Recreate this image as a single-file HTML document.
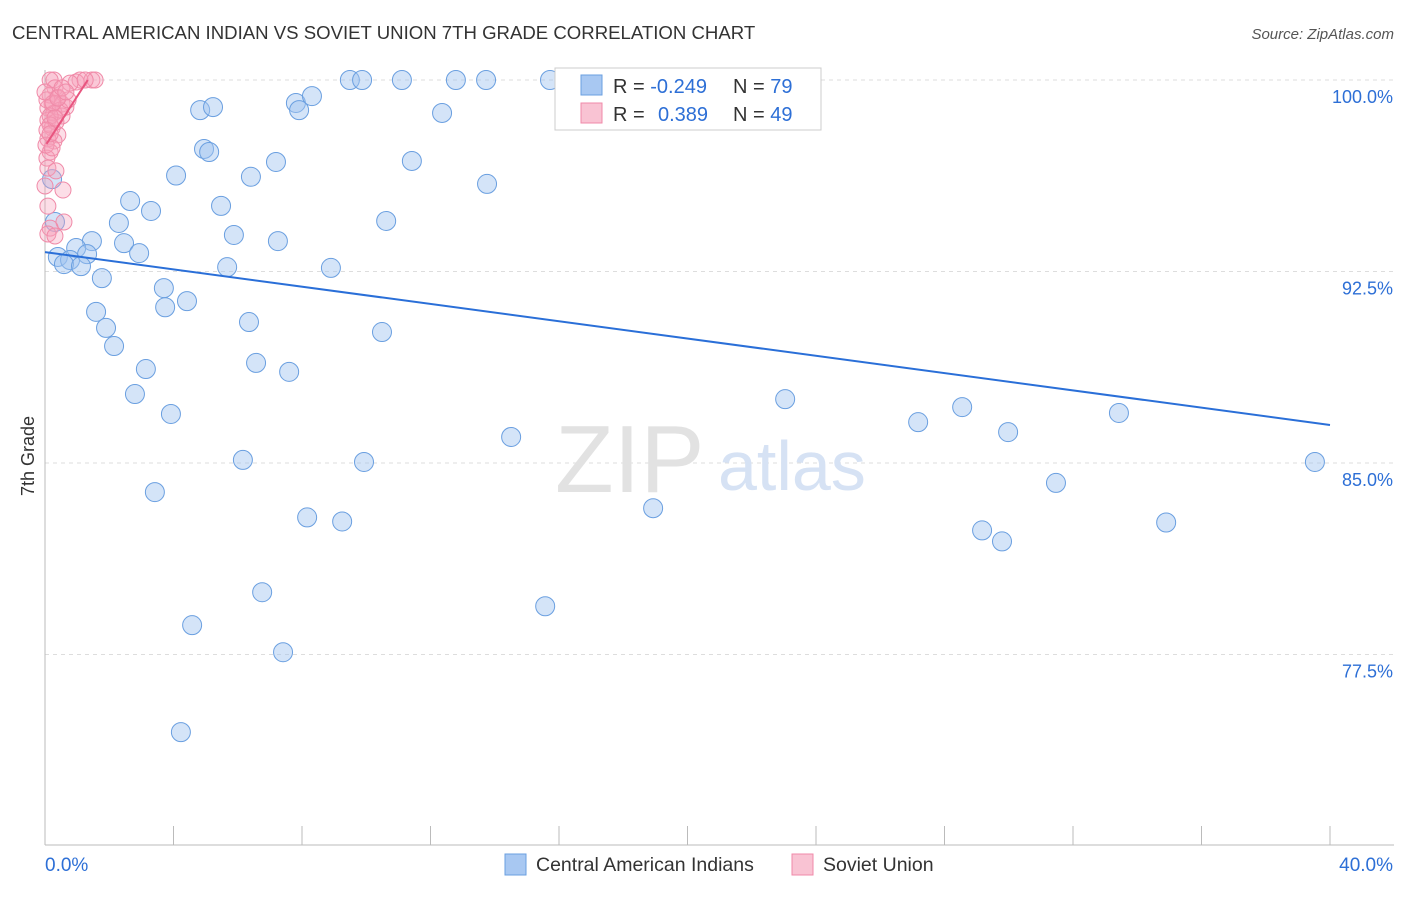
<!DOCTYPE html>
<html><head><meta charset="utf-8"><style>
body{margin:0;background:#fff;font-family:"Liberation Sans",sans-serif}
svg text{font-family:"Liberation Sans",sans-serif}
</style></head><body>
<svg id="chart" width="1406" height="892">
<text x="12" y="39" font-size="18.6" fill="#333">CENTRAL AMERICAN INDIAN VS SOVIET UNION 7TH GRADE CORRELATION CHART</text>
<text x="1394" y="39" font-size="15" fill="#555" text-anchor="end" font-style="italic">Source: ZipAtlas.com</text>
<g id="grid"></g>
<text x="555" y="492" font-size="96" fill="#e2e2e2" font-family="Liberation Serif">ZIP</text>
<text x="718" y="490" font-size="70" fill="#d6e2f4">atlas</text>
<g id="axes"></g>
<g id="pts"></g>
<g id="trend"></g>
<text transform="translate(34,456) rotate(-90)" font-size="18" fill="#333" text-anchor="middle">7th Grade</text>
<g>
<rect x="555" y="68" width="266" height="62" fill="#fff" stroke="#ccc"/>
<rect x="581" y="75" width="21" height="20" fill="#a8c8f2" stroke="#6a9fe0"/>
<rect x="581" y="103" width="21" height="20" fill="#f9c3d3" stroke="#f08aa8"/>
<text x="613" y="93" font-size="20" fill="#333">R = <tspan fill="#2d6fd6">-0.249</tspan></text>
<text x="733" y="93" font-size="20" fill="#333">N = <tspan fill="#2d6fd6">79</tspan></text>
<text x="613" y="121" font-size="20" fill="#333">R = <tspan fill="#2d6fd6" x="658">0.389</tspan></text>
<text x="733" y="121" font-size="20" fill="#333">N = <tspan fill="#2d6fd6">49</tspan></text>
</g>
<g>
<rect x="505" y="854" width="21" height="21" fill="#a8c8f2" stroke="#6a9fe0"/>
<text x="536" y="871" font-size="19.5" fill="#333">Central American Indians</text>
<rect x="792" y="854" width="21" height="21" fill="#f9c3d3" stroke="#f08aa8"/>
<text x="823" y="871" font-size="19.5" fill="#333">Soviet Union</text>
</g>
</svg>
<script>
const yTicks=[100,92.5,85,77.5];
const xTickLabels=["0.0%","40.0%"];
const blueX=[9.49,9.87,11.11,12.79,13.73,15.72,17.43,18.21,22.26,4.83,5.23,7.81,7.91,8.31,12.36,4.95,5.11,7.19,11.42,4.08,6.41,13.76,2.65,3.30,5.48,2.30,10.62,5.88,1.46,2.46,7.25,0.97,2.93,0.40,0.78,1.31,0.59,1.12,5.67,8.90,1.77,3.70,3.74,4.42,1.59,1.90,6.35,10.49,2.15,3.14,6.57,7.60,2.80,23.04,3.92,27.18,28.55,33.43,14.51,29.98,6.16,9.93,39.53,3.42,31.47,18.93,8.16,9.25,34.90,29.17,29.79,6.76,15.57,4.58,7.41,4.23,0.31,0.22];
const blueY=[100,100,100,100,100,100,100,100,100,98.82,98.94,99.10,98.82,99.37,98.71,97.30,97.18,96.79,96.83,96.26,96.21,95.93,95.26,94.87,95.07,94.40,94.48,93.93,93.69,93.61,93.69,93.42,93.22,93.07,92.95,93.18,92.79,92.71,92.67,92.64,92.24,91.85,91.10,91.34,90.92,90.29,90.52,90.13,89.58,88.68,88.92,88.57,87.70,87.50,86.92,86.60,87.19,86.96,86.02,86.21,85.12,85.04,85.04,83.86,84.22,83.23,82.87,82.71,82.67,82.36,81.93,79.94,79.39,78.65,77.59,74.46,94.44,96.12];
const pinkX=[0.28,0.16,1.09,1.46,1.56,0.97,0.31,0.16,0.40,0.22,0.53,0.09,0.65,0.28,0.53,0.09,0.22,0.40,0.09,0.28,0.16,0.06,0.09,0.34,0.56,0.09,0.59,0.16,0.09,0.31,0,0.06,0.34,0.47,0.16,0.78,1.25,0.03,0.22,0.25,0.72,0,0.16,0.40,0.53,0.06,0.31,0.16,0.65];
const pinkY=[100,100,100,100,100,99.92,99.69,99.41,99.33,99.06,99.06,98.90,98.94,98.71,98.59,98.43,98.12,97.85,97.69,97.61,97.18,96.94,96.55,96.44,95.69,95.06,94.44,94.20,93.97,93.89,95.85,99.22,98.35,98.82,98.59,99.88,100,97.45,97.34,99.10,99.22,99.53,98.24,99.29,99.69,98.04,98.51,97.89,99.53];
const blueTrend=[[0,93.26],[40,86.49]];
const pinkTrend=[[0.05,97.5],[1.33,100]];
const NS="http://www.w3.org/2000/svg";
const X0=45,X1=1330,sx=v=>X0+(v/40)*(X1-X0);
const sy=v=>80+(100-v)*(191.5/7.5);
function mk(tag,attrs,parent){const e=document.createElementNS(NS,tag);for(const k in attrs)e.setAttribute(k,attrs[k]);parent.appendChild(e);return e;}
const grid=document.getElementById('grid'),axes=document.getElementById('axes'),pts=document.getElementById('pts'),tr=document.getElementById('trend');
yTicks.forEach(t=>{
 const l=mk('line',{x1:X0,x2:1394,y1:sy(t),y2:sy(t),stroke:'#ddd','stroke-dasharray':'4,4'},grid);
 
 
 const tx=mk('text',{x:1393,y:sy(t)+23,'font-size':18,fill:'#2d6fd6','text-anchor':'end'},axes);
 tx.textContent=t.toFixed(1)+'%';
 
 
});
const al=mk('line',{x1:X0,x2:X0,y1:70,y2:845,stroke:'#bbb'},axes);


const bl=mk('line',{x1:X0,x2:1394,y1:845,y2:845,stroke:'#bbb'},axes);


for(let i=1;i<=10;i++){const t=mk('line',{x1:sx(i*4),x2:sx(i*4),y1:826,y2:845,stroke:'#bbb'},axes);
 
 }
xTickLabels.forEach((s,i)=>{const t=mk('text',{x:i?1393:45,y:871,'font-size':19,fill:'#2d6fd6','text-anchor':i?'end':'start'},axes);t.textContent=s;
 
 });
blueX.forEach((x,i)=>{const c=mk('circle',{cx:sx(x),cy:sy(blueY[i]),r:9.5,fill:'rgba(160,196,240,0.45)',stroke:'#6a9fe0','stroke-width':1},pts);
 
 });
pinkX.forEach((x,i)=>{const c=mk('circle',{cx:sx(x),cy:sy(pinkY[i]),r:8,fill:'rgba(245,160,185,0.35)',stroke:'#f08aa8','stroke-width':1},pts);
 
 });
const b=mk('line',{x1:sx(blueTrend[0][0]),y1:sy(blueTrend[0][1]),x2:sx(blueTrend[1][0]),y2:sy(blueTrend[1][1]),stroke:'#2a6fd8','stroke-width':2},tr);


const p=mk('line',{x1:sx(pinkTrend[0][0]),y1:sy(pinkTrend[0][1]),x2:sx(pinkTrend[1][0]),y2:sy(pinkTrend[1][1]),stroke:'#e8557f','stroke-width':2},tr);


</script>
</body></html>
